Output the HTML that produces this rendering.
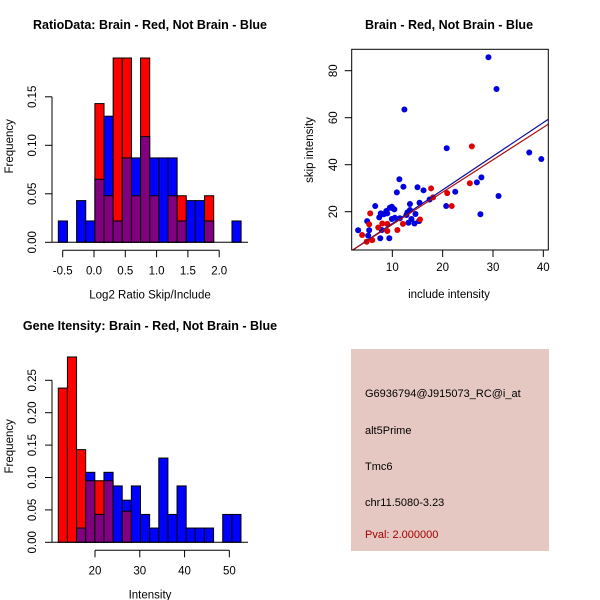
<!DOCTYPE html>
<html><head><meta charset="utf-8"><style>
body{margin:0;background:#fff}
svg{display:block;font-family:"Liberation Sans",sans-serif}
</style></head><body>
<svg id="c" width="600" height="600" viewBox="0 0 600 600">
<rect x="351" y="349" width="198" height="202" fill="#e5c8c2"/>
<g font-size="11">
<text x="365" y="397">G6936794@J915073_RC@i_at</text>
<text x="365" y="434">alt5Prime</text>
<text x="365" y="470">Tmc6</text>
<text x="365" y="506">chr11.5080-3.23</text>
<text x="365" y="538" fill="#a00000">Pval: 2.000000</text>
</g>
</svg>
<script>
// Ratio histogram data
const ratioBinStart = -0.57, ratioBinWidth = 0.146;
const ratioRed  = [0,0,0,0,0.143,0.048,0.19,0.19,0.048,0.19,0.048,0,0.048,0.048,0,0,0.048,0,0,0];
const ratioBlue = [0.022,0,0.043,0.022,0.065,0.13,0.022,0.087,0.087,0.109,0.087,0.087,0.087,0.022,0.043,0.043,0.022,0,0,0.022];
const ratioXTicks = [-0.5,0,0.5,1,1.5,2];
const ratioXLabels = ["-0.5","0.0","0.5","1.0","1.5","2.0"];
const ratioYTicks = [0,0.05,0.1,0.15];
const ratioYLabels = ["0.00","0.05","0.10","0.15"];
// Intensity histogram data
const intBinStart = 11.8, intBinWidth = 2.04;
const intRed  = [0.238,0.286,0.143,0.095,0.095,0.095,0,0.048,0,0,0,0,0,0,0,0,0,0,0,0];
const intBlue = [0,0,0.022,0.108,0.043,0.108,0.087,0.065,0.087,0.043,0.022,0.13,0.043,0.087,0.022,0.022,0.022,0,0.043,0.043];
const intXTicks = [20,30,40,50];
const intYTicks = [0,0.05,0.1,0.15,0.2,0.25];
const intYLabels = ["0.00","0.05","0.10","0.15","0.20","0.25"];
// Scatter data
const blueX = [3.2,5.0,5.4,5.2,6.6,7.4,7.6,8.3,7.9,9.4,7.7,8.8,9.9,10.1,10.4,9.9,10.5,10.9,11.4,12.2,11.5,13.0,13.2,13.5,13.5,13.8,14.4,15.0,15.4,15.3,16.2,17.4,20.8,20.7,22.5,26.8,27.5,27.7,29.1,30.7,31.1,37.2,39.6,12.4,9.5,9.0,12.8,14.6];
const blueY = [12.1,16.0,12.1,9.8,22.4,17.6,8.7,18.9,12.2,8.7,19.3,20.3,22.1,21.4,21.0,16.9,17.4,28.2,33.8,30.6,17.2,19.7,15.3,20.7,23.3,16.9,15.0,30.4,23.8,16.0,29.1,25.2,47.0,22.4,28.5,32.5,18.9,34.6,85.7,72.2,26.7,45.2,42.4,63.5,21.7,19.3,18.6,19.0];
const redX = [4.0,5.6,5.4,6.0,7.2,8.0,9.0,9.0,11.0,12.1,15.5,17.7,18.1,20.9,21.8,25.4,25.8,4.9];
const redY = [10.1,19.3,14.6,7.9,13.3,15.0,14.8,11.8,12.2,14.8,16.7,29.9,26.1,27.9,22.4,32.1,47.8,7.2];
const fitBlue = [0.65,1.432]; // intercept, slope
const fitRed = [0.75,1.378];
const scXTicks = [10,20,30,40];
const scYTicks = [20,40,60,80];

const svg = document.getElementById('c');
const NS = 'http://www.w3.org/2000/svg';
function mk(tag, attrs, parent){
  const e = document.createElementNS(NS, tag);
  for (const k in attrs) e.setAttribute(k, attrs[k]);
  (parent||svg).appendChild(e);
  return e;
}
function txt(x,y,s,size,rot,weight){
  const t = mk('text',{x:x,y:y,'font-size':size,'text-anchor':'middle'});
  if (rot) t.setAttribute('transform','rotate(-90 '+x+' '+y+')');
  if (weight) t.setAttribute('font-weight', weight);
  t.textContent = s;
  return t;
}

function histogram(name, red, blue, b0, bw, xs, ys, xTicks, xLabels, yTicks, yLabels, title, xtitle, titleY, oy){
  const g = mk('g',{});
  
  
  const X = v => xs[0] + (v - xs[1]) * xs[2];
  const Y = v => oy - v * ys;
  for (let i=0;i<red.length;i++){
    const x0 = X(b0 + i*bw), x1 = X(b0 + (i+1)*bw);
    const r = red[i], b = blue[i];
    const hi = Math.max(r,b), lo = Math.min(r,b);
    if (hi > 0){
      const rc = mk('rect',{x:x0,y:Y(hi),width:x1-x0,height:hi*ys,fill:r>=b?'#ff0000':'#0000ff',stroke:'#000','stroke-width':1},g);
      
      
    }
    if (lo > 0){
      const pc = mk('rect',{x:x0,y:Y(lo),width:x1-x0,height:lo*ys,fill:'#800080',stroke:'#000','stroke-width':1},g);
      
      
    }
  }
  mk('line',{x1:52,x2:248,y1:oy,y2:oy,stroke:'#000'},g);
  mk('line',{x1:52,x2:52,y1:Y(yTicks[0]),y2:Y(yTicks[yTicks.length-1]),stroke:'#000'},g);
  yTicks.forEach((v,i)=>{
    mk('line',{x1:45,x2:52,y1:Y(v),y2:Y(v),stroke:'#000'},g);
    const t = txt(36,Y(v),yLabels[i],11.5,true);
    
    
  });
  const ax = oy + 8;
  mk('line',{x1:X(xTicks[0]),x2:X(xTicks[xTicks.length-1]),y1:ax,y2:ax,stroke:'#000'},g);
  xTicks.forEach((v,i)=>{
    mk('line',{x1:X(v),x2:X(v),y1:ax,y2:ax+7,stroke:'#000'},g);
    const t = txt(X(v),ax+24,xLabels[i],11.5);
    
    
  });
  const tt = txt(150,titleY,title,12.5,false,'bold');
  
  
  const xt = txt(150,oy+56,xtitle,11.5);
  
  
  const yt = txt(13,oy-96,'Frequency',11.5,true);
  
  
}

histogram('ratio-histogram', ratioRed, ratioBlue, ratioBinStart, ratioBinWidth, [62.7,-0.5,62.6], 970,
  ratioXTicks, ratioXLabels, ratioYTicks, ratioYLabels, 'RatioData: Brain - Red, Not Brain - Blue', 'Log2 Ratio Skip/Include', 29, 242.3);
histogram('intensity-histogram', intRed, intBlue, intBinStart, intBinWidth, [95,20,4.478], 648,
  intXTicks, intXTicks.map(String), intYTicks, intYLabels, 'Gene Itensity: Brain - Red, Not Brain - Blue', 'Intensity', 330, 542.3);

(function(){
  const g = mk('g',{});
  
  
  const X = v => 342 + v*5.033;
  const Y = v => 258.7 - v*2.35;
  const L=351.7,R=548.3,T=49.3,B=250;
  const clip = mk('clipPath',{id:'sc'},g);
  mk('rect',{x:L,y:T,width:R-L,height:B-T},clip);
  const pg = mk('g',{'clip-path':'url(#sc)'},g);
  blueX.forEach((x,i)=>{
    const c = mk('circle',{cx:X(x),cy:Y(blueY[i]),r:3,fill:'#0000e0'},pg);
    
    
  });
  redX.forEach((x,i)=>{
    const c = mk('circle',{cx:X(x),cy:Y(redY[i]),r:3,fill:'#e00000'},pg);
    
    
  });
  const lb = mk('line',{x1:X(0),y1:Y(fitBlue[0]),x2:X(45),y2:Y(fitBlue[0]+45*fitBlue[1]),stroke:'#1010a0','stroke-width':1.2},pg);
  
  
  const lr = mk('line',{x1:X(0),y1:Y(fitRed[0]),x2:X(45),y2:Y(fitRed[0]+45*fitRed[1]),stroke:'#b01010','stroke-width':1.2},pg);
  
  
  mk('rect',{x:L,y:T,width:R-L,height:B-T,fill:'none',stroke:'#000'},g);
  scXTicks.forEach(v=>{
    mk('line',{x1:X(v),x2:X(v),y1:B,y2:B+7,stroke:'#000'},g);
    const t = txt(X(v),B+21,String(v),11.5);
    
    
  });
  scYTicks.forEach(v=>{
    mk('line',{x1:L-7,x2:L,y1:Y(v),y2:Y(v),stroke:'#000'},g);
    const t = txt(337,Y(v),String(v),11.5,true);
    
    
  });
  const tt = txt(449,29,'Brain - Red, Not Brain - Blue',12.5,false,'bold');
  
  
  const xt = txt(449,298,'include intensity',11.5);
  
  
  const yt = txt(313,150,'skip intensity',11.5,true);
  
  
})();
</script>
</body></html>
